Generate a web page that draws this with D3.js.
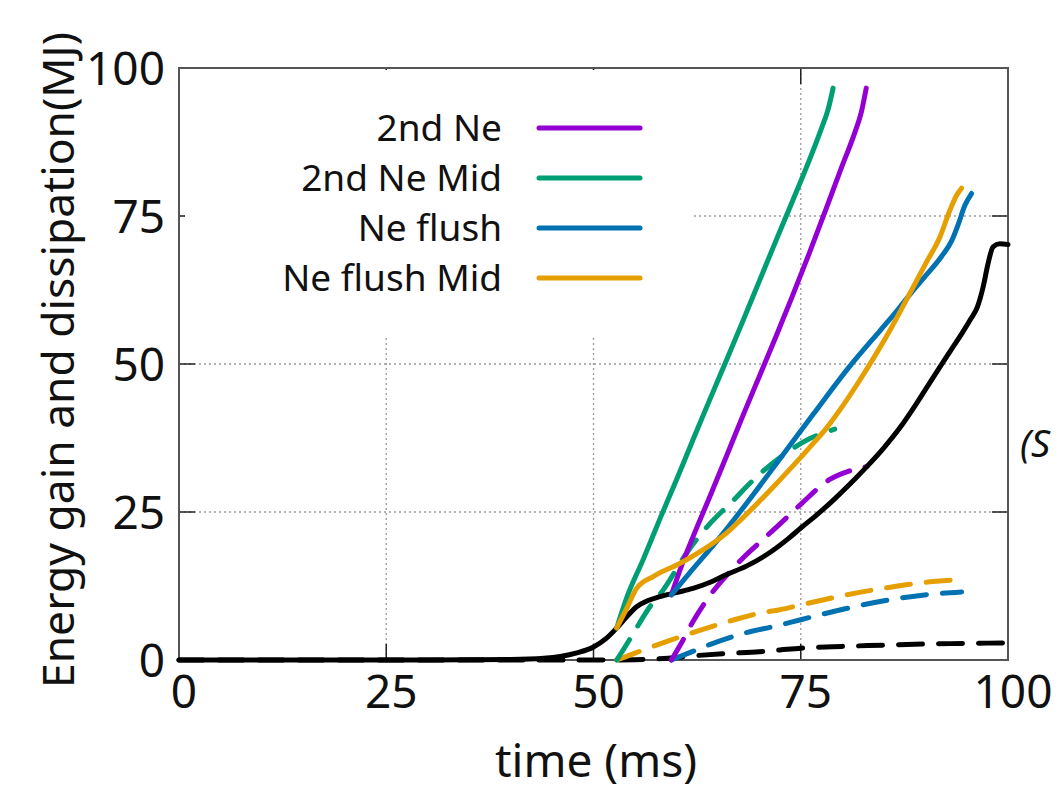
<!DOCTYPE html>
<html>
  <head>
    <title></title>
    <script src="https://cdnjs.cloudflare.com/ajax/libs/d3/7.8.5/d3.min.js"></script>
    <style type="text/css">
        html, body{
            padding: 0px;
            margin: 0px;
            background: #ffffff;
            font-family: "Noto Sans", sans-serif;
        }
        #vis{
            position: fixed;
            top: 0px;
            left: 0px;
        }
    </style>
  </head>
  <body>
    <div id="vis"></div>
    <script type="text/javascript">

        // tick values
        var xTicks = [0, 25, 50, 75, 100]
        var yTicks = [0, 25, 50, 75, 100]

        // legend entries
        var legendNames = ["2nd Ne", "2nd Ne Mid", "Ne flush", "Ne flush Mid"]
        var legendColors = ["#9400d3", "#009e73", "#0072b2", "#e69f00"]

        // black (reference) curves
        var blackT = [0, 30, 40, 44, 46, 48, 50, 51.5, 52.8, 54, 55.2, 56.5, 58, 60, 62, 64, 66, 68.5, 71, 73.5, 75, 77, 79, 81, 83, 85, 87, 89, 91, 93, 94.5, 95.5, 96.3, 97, 97.6, 98.2, 99, 100]
        var blackE = [0, 0, 0.1, 0.3, 0.6, 1.2, 2.2, 3.6, 5.4, 7.3, 9.0, 10.0, 10.7, 11.4, 12.1, 13.1, 14.4, 15.9, 17.9, 20.5, 22.3, 24.6, 27.1, 29.8, 32.7, 35.8, 39.3, 43.4, 47.8, 52.1, 55.3, 57.6, 59.6, 63, 67, 69.8, 70.3, 70.2]
        var blackDashT = [0, 50, 55, 59, 62, 66, 70, 72.5, 75, 80, 85, 90, 95, 100]
        var blackDashE = [0, 0, 0.05, 0.3, 0.7, 1.1, 1.4, 1.7, 2.0, 2.3, 2.5, 2.7, 2.8, 2.9]

        // 2nd Ne
        var purpleT = [59.4, 60.8, 62, 64, 66, 68, 70, 72, 74, 76, 78, 80, 81.5, 82.3, 82.9]
        var purpleE = [11, 16.6, 20.8, 27.5, 34.3, 41.2, 47.9, 54.6, 61.5, 68.6, 76, 83.5, 89, 92.5, 96.6]
        var purpleDashT = [59.4, 60.5, 62, 64, 66, 68, 70, 72.5, 75, 78.5, 81, 83]
        var purpleDashE = [0, 2.6, 6.5, 10.8, 14.2, 17.2, 19.8, 23, 26.3, 30.5, 32, 32.7]

        // 2nd Ne Mid
        var greenT = [52.8, 54, 56, 58, 60, 62, 64, 66, 68, 70, 72, 74, 76, 77.5, 78.3, 78.9]
        var greenE = [5.4, 10.5, 17, 23.8, 30.4, 37.2, 43.9, 50.5, 57.2, 64, 70.8, 77.5, 84.3, 89.8, 93, 96.6]
        var greenDashT = [52.8, 53.8, 54.8, 56.8, 58.4, 61.2, 63.7, 66.9, 68.9, 72.5, 76.1, 79.1]
        var greenDashE = [0, 2.2, 4.5, 9, 11.8, 18, 22.5, 27, 29.9, 34.2, 37.4, 39]

        // Ne flush
        var blueT = [59.4, 62, 65, 69.3, 72.5, 76.5, 80.9, 84.6, 86.5, 88.2, 90, 92, 93.2, 94, 94.8, 95.6]
        var blueE = [11, 15.4, 20.3, 28, 34, 41.5, 49.6, 55.7, 58.8, 61.8, 64.8, 68.2, 70.8, 73.6, 76.8, 78.8]
        var blueDashT = [59.4, 61, 64, 68.1, 72.5, 75, 80.5, 85.8, 90.6, 94.4]
        var blueDashE = [0, 0.9, 2.6, 4.5, 5.9, 6.8, 8.7, 10.2, 11.1, 11.5]

        // Ne flush Mid
        var orangeT = [52.8, 54, 55.2, 57.2, 60.4, 63.2, 66, 68, 70, 72, 74, 76, 78, 80, 82, 84, 86, 88, 90, 91.8, 93, 93.8, 94.4]
        var orangeE = [5.4, 8.7, 12.1, 14.1, 16.3, 18.6, 21.4, 24, 26.8, 29.7, 32.7, 35.8, 39, 42.8, 47, 51.5, 56.3, 61.5, 66.8, 71.5, 76, 78.5, 79.7]
        var orangeDashT = [52.8, 54, 56, 59.2, 63, 67, 70, 72.5, 75, 80.5, 85.8, 90.6, 94.4]
        var orangeDashE = [0, 0.6, 1.7, 3.3, 5.1, 6.8, 7.9, 8.5, 9.3, 11, 12.3, 13.2, 13.6]

        var width = 1057
        var height = 795
        // plot frame (px); "top" is reserved on window, so prefix the names
        var plotL = 179, plotR = 1008, plotT = 68, plotB = 660

        var svg = d3.select("#vis").append("svg")
            .attr("width", width)
            .attr("height", height)

        svg.append("rect")
            .attr("width", width)
            .attr("height", height)
            .attr("fill", "#ffffff")

        var x = d3.scaleLinear().domain([0, 100]).range([plotL, plotR])
        var y = d3.scaleLinear().domain([0, 100]).range([plotB, plotT])

        // dotted grid
        var grid = svg.append("g")
        grid.selectAll("line.gx")
            .data(xTicks.slice(1, -1))
            .enter().append("line")
            .attr("class", "gx")
            .attr("x1", d => x(d)).attr("x2", d => x(d))
            .attr("y1", plotT).attr("y2", plotB)
        grid.selectAll("line.gy")
            .data(yTicks.slice(1, -1))
            .enter().append("line")
            .attr("class", "gy")
            .attr("y1", d => y(d)).attr("y2", d => y(d))
            .attr("x1", plotL).attr("x2", plotR)
        grid.selectAll("line")
            .attr("stroke", "#9a9a9a")
            .attr("stroke-width", 1.3)
            .attr("stroke-dasharray", "2,3")

        // ticks on all four sides, pointing inward
        var tickLen = 16
        var ticks = svg.append("g").attr("stroke", "#222").attr("stroke-width", 1.5)
        xTicks.forEach(function(d){
            ticks.append("line").attr("x1", x(d)).attr("x2", x(d)).attr("y1", plotB).attr("y2", plotB - tickLen)
            ticks.append("line").attr("x1", x(d)).attr("x2", x(d)).attr("y1", plotT).attr("y2", plotT + tickLen)
        })
        yTicks.forEach(function(d){
            ticks.append("line").attr("y1", y(d)).attr("y2", y(d)).attr("x1", plotL).attr("x2", plotL + tickLen)
            ticks.append("line").attr("y1", y(d)).attr("y2", y(d)).attr("x1", plotR).attr("x2", plotR - tickLen)
        })

        // legend background hides the grid behind it
        svg.append("rect")
            .attr("x", 185).attr("y", 70)
            .attr("width", 508).attr("height", 267)
            .attr("fill", "#ffffff")

        // frame
        svg.append("rect")
            .attr("x", plotL).attr("y", plotT)
            .attr("width", plotR - plotL).attr("height", plotB - plotT)
            .attr("fill", "none")
            .attr("stroke", "#555")
            .attr("stroke-width", 2)

        var line = d3.line()
            .x(d => x(d[0]))
            .y(d => y(d[1]))
            .curve(d3.curveMonotoneX)

        function pairs(ts, es){
            return ts.map(function(t, i){ return [t, es[i]]; })
        }

        var series = [
            {t: blackDashT, e: blackDashE, color: "#000000", dash: true},
            {t: orangeDashT, e: orangeDashE, color: "#e69f00", dash: true},
            {t: blueDashT, e: blueDashE, color: "#0072b2", dash: true},
            {t: greenDashT, e: greenDashE, color: "#009e73", dash: true},
            {t: purpleDashT, e: purpleDashE, color: "#9400d3", dash: true},
            {t: blackT, e: blackE, color: "#000000", dash: false},
            {t: greenT, e: greenE, color: "#009e73", dash: false},
            {t: purpleT, e: purpleE, color: "#9400d3", dash: false},
            {t: blueT, e: blueE, color: "#0072b2", dash: false},
            {t: orangeT, e: orangeE, color: "#e69f00", dash: false}
        ]

        svg.append("g").selectAll("path")
            .data(series)
            .enter().append("path")
            .attr("d", d => line(pairs(d.t, d.e)))
            .attr("fill", "none")
            .attr("stroke", d => d.color)
            .attr("stroke-width", 5)
            .attr("stroke-linecap", "round")
            .attr("stroke-linejoin", "round")
            .attr("stroke-dasharray", d => d.dash ? "24,16" : null)

        // legend
        var legend = svg.append("g").selectAll("g")
            .data(legendNames)
            .enter().append("g")
            .attr("transform", (d, i) => "translate(0," + (128 + i * 50) + ")")
        legend.append("text")
            .attr("x", 502).attr("y", 13)
            .attr("text-anchor", "end")
            .attr("font-size", 37)
            .attr("fill", "#111")
            .text(d => d)
        legend.append("line")
            .attr("x1", 539).attr("x2", 640)
            .attr("stroke", (d, i) => legendColors[i])
            .attr("stroke-width", 5)
            .attr("stroke-linecap", "round")

        // tick labels
        svg.append("g").selectAll("text")
            .data(xTicks)
            .enter().append("text")
            .attr("x", d => x(d) + 5)
            .attr("y", 708)
            .attr("text-anchor", "middle")
            .attr("font-size", 46)
            .attr("fill", "#111")
            .text(d => d)
        svg.append("g").selectAll("text")
            .data(yTicks)
            .enter().append("text")
            .attr("x", 165)
            .attr("y", d => y(d) + 17)
            .attr("text-anchor", "end")
            .attr("font-size", 46)
            .attr("fill", "#111")
            .text(d => d)

        // axis titles
        svg.append("text")
            .attr("x", 596).attr("y", 777)
            .attr("text-anchor", "middle")
            .attr("font-size", 46)
            .attr("fill", "#111")
            .text("time (ms)")
        svg.append("text")
            .attr("transform", "translate(74,360) rotate(-90)")
            .attr("text-anchor", "middle")
            .attr("font-size", 43)
            .attr("textLength", 656)
            .attr("lengthAdjust", "spacingAndGlyphs")
            .attr("fill", "#111")
            .text("Energy gain and dissipation(MJ)")

        // clipped caption fragment at the right edge
        svg.append("text")
            .attr("x", 1020).attr("y", 457)
            .attr("font-size", 38)
            .attr("font-style", "italic")
            .attr("fill", "#111")
            .text("(S")

    </script>
  </body>
</html>
